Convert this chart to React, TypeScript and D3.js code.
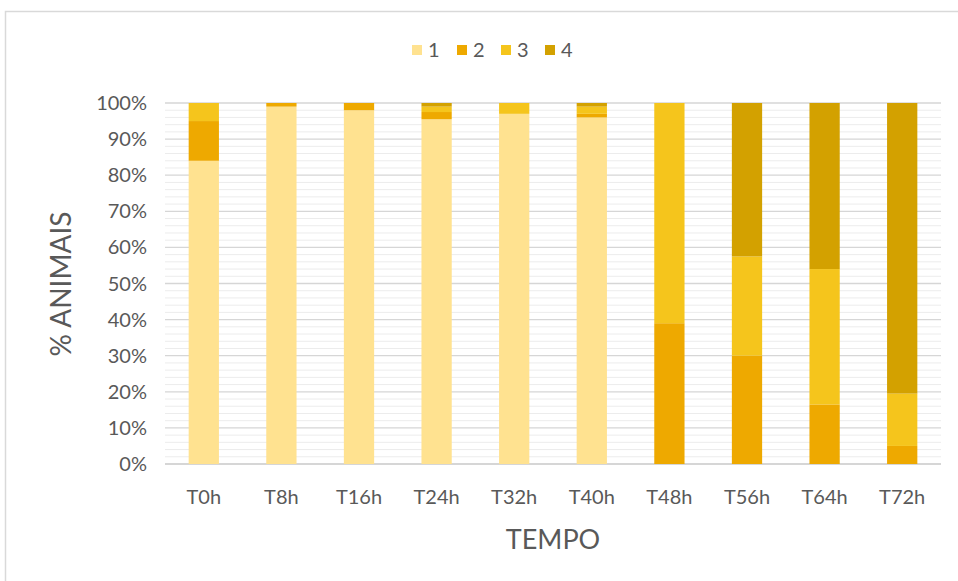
import React from "react";
import * as d3 from "d3";

const categories = ["T0h", "T8h", "T16h", "T24h", "T32h", "T40h", "T48h", "T56h", "T64h", "T72h"];
const seriesNames = ["1", "2", "3", "4"];
const s1 = [84, 99, 98, 95.5, 97, 96, 0, 0, 0, 0];
const s2 = [11, 1, 2, 2, 0, 1, 39, 30, 16.5, 5];
const s3 = [5, 0, 0, 1.5, 3, 2, 61, 27.5, 37.5, 14.5];
const s4 = [0, 0, 0, 1, 0, 1, 0, 42.5, 46, 80.5];
const yTicks = [0, 10, 20, 30, 40, 50, 60, 70, 80, 90, 100];
const colors = ["#FFE290", "#EEA900", "#F5C51C", "#D3A100"];

export default function App() {
  const W = 958, H = 581;
  const left = 165, right = 941, top = 103, bottom = 464;
  const x = d3.scaleBand().domain(categories).range([left, right]).paddingInner(0.61).paddingOuter(0.305);
  const y = d3.scaleLinear().domain([0, 100]).range([bottom, top]);
  const rows = categories.map((c, i) => ({ cat: c, "1": s1[i], "2": s2[i], "3": s3[i], "4": s4[i] }));
  const stack = d3.stack<any>().keys(seriesNames)(rows);
  const minor = d3.range(0, 101, 2).filter((v) => v % 10 !== 0);
  const font = "Lato, 'Open Sans', sans-serif";
  const gray = "#595959";
  const legendX = [412, 457, 501, 545];
  return (
    <svg width={W} height={H} style={{ position: "absolute", left: 0, top: 0, background: "#fff" }}>
      <rect x={5.5} y={11.5} width={1000} height={1000} fill="#fff" stroke="#d9d9d9" strokeWidth={1.5} />
      {minor.map((v) => (
        <line key={"m" + v} x1={left} x2={right} y1={y(v)} y2={y(v)} stroke="#ececec" strokeWidth={1} />
      ))}
      {yTicks.map((v) => (
        <line key={"g" + v} x1={left} x2={right} y1={y(v)} y2={y(v)} stroke={v === 0 ? "#c8c8c8" : "#d6d6d6"} strokeWidth={1.3} />
      ))}
      {stack.map((layer, si) =>
        layer.map((d, i) => (
          <rect
            key={si + "-" + i}
            x={x(categories[i])}
            width={x.bandwidth()}
            y={y(d[1])}
            height={Math.max(0, y(d[0]) - y(d[1]))}
            fill={colors[si]}
          />
        ))
      )}
      {yTicks.map((v) => (
        <text key={"t" + v} x={147} y={y(v)} dy="0.35em" textAnchor="end" fontFamily={font} fontSize={20} fill={gray}>
          {v + "%"}
        </text>
      ))}
      {categories.map((c) => (
        <text key={c} x={(x(c) as number) + x.bandwidth() / 2} y={504} textAnchor="middle" fontFamily={font} fontSize={20} fill={gray}>
          {c}
        </text>
      ))}
      {seriesNames.map((s, i) => (
        <g key={"l" + s}>
          <rect x={legendX[i]} y={45} width={10} height={10} fill={colors[i]} />
          <text x={legendX[i] + 16} y={50} dy="0.35em" fontFamily={font} fontSize={20} fill={gray}>
            {s}
          </text>
        </g>
      ))}
      <text x={553} y={549} textAnchor="middle" fontFamily={font} fontSize={27} fill={gray}>
        TEMPO
      </text>
      <text transform="translate(71,284) rotate(-90)" textAnchor="middle" fontFamily={font} fontSize={28} fill={gray}>
        % ANIMAIS
      </text>
    </svg>
  );
}
